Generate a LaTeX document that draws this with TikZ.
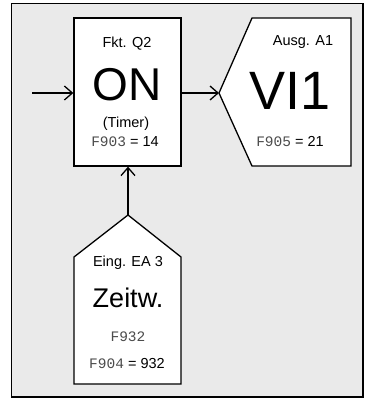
\documentclass[tikz,border=0pt]{standalone}
\usepackage{fontspec}
\setmainfont{Liberation Sans}
\newfontfamily\segfont{Liberation Mono}
\usetikzlibrary{arrows.meta}
\definecolor{bggrey}{HTML}{EAEAEA}
\newcommand{\segtxt}[1]{{\segfont\fontsize{14.5}{16}\selectfont\color{black!70}#1}}
\begin{document}
\begin{tikzpicture}[x=1pt,y=-1pt,
  shapeline/.style={draw=black,line width=1.3pt,fill=white},
  arr/.style={line width=1.3pt,-{Straight Barb[length=8pt,width=14pt,line width=1.3pt]}},
  txt/.style={anchor=base,inner sep=0pt,font=\fontsize{14.5}{16}\selectfont},
  big/.style={anchor=base,inner sep=0pt}]
\useasboundingbox (0,0) rectangle (369,399);
\draw[line width=1.3pt,fill=bggrey] (11.5,3.5) rectangle (363,397);
% Q2 box
\node[shapeline,rectangle,minimum width=107pt,minimum height=148pt,inner sep=0pt] (q2) at (127.5,92) {};
\node[txt] (q2t) at (127,47) {Fkt. Q2};
\node[big,font=\fontsize{46}{50}\selectfont] (q2on) at (127,100) {ON};
\node[txt] (q2timer) at (126,127) {(Timer)};
\node[txt] (q2f) at (125,146) {\segtxt{F903} = 14};
% A1 shape
\draw[shapeline] (219,93) -- (252,18) -- (351,18) -- (351,166) -- (252,166) -- cycle;
\coordinate (a1in) at (219,93);
\node[txt] (a1t) at (303,45) {Ausg. A1};
\node[big,font=\fontsize{54}{58}\selectfont] (a1v) at (290,109) {VI1};
\node[txt] (a1f) at (290,146) {\segtxt{F905} = 21};
% EA3 shape
\draw[shapeline] (128,215) -- (181,257) -- (181,384) -- (74,384) -- (74,257) -- cycle;
\coordinate (ea3top) at (128,215);
\node[txt] (ea3t) at (128,266) {Eing. EA 3};
\node[big,font=\fontsize{27}{30}\selectfont] (ea3z) at (128,307) {Zeitw.};
\node[txt] (ea3s) at (128,341) {\segtxt{F932}};
\node[txt] (ea3f) at (127,368) {\segtxt{F904} = 932};
% connectors
\coordinate (inleft) at (32,93);
\draw[arr] (inleft) -- (q2.west |- inleft);
\draw[arr] (q2.east |- a1in) -- (a1in);
\draw[arr] (ea3top) -- (ea3top |- q2.south);
\end{tikzpicture}
\end{document}
